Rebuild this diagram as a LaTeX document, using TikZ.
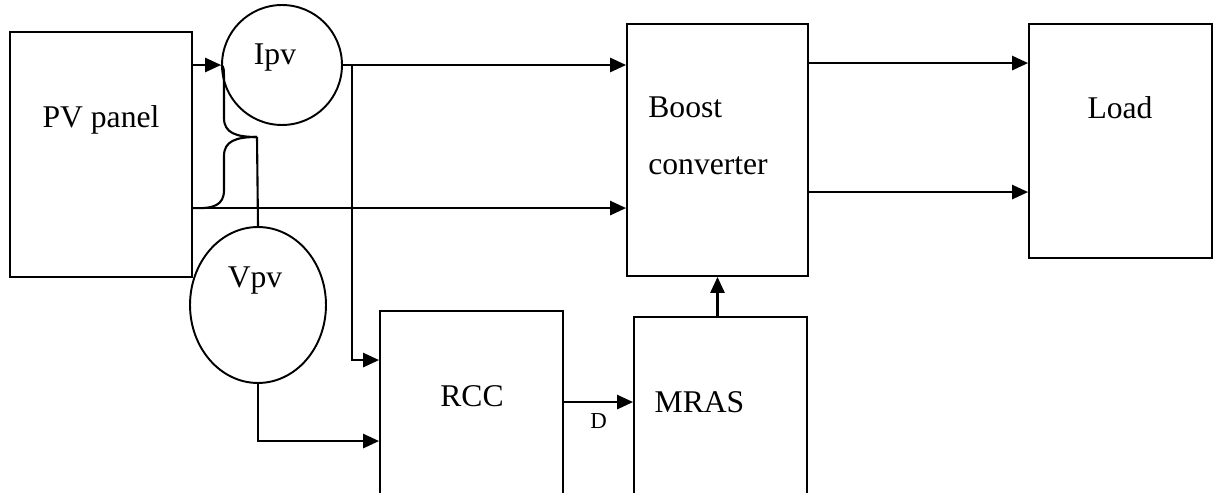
\documentclass[tikz,border=0pt]{standalone}
\usepackage{fontspec}
\setmainfont{Liberation Serif}
\usetikzlibrary{shapes.geometric,arrows.meta,calc}
\begin{document}
\begin{tikzpicture}[x=0.02cm,y=-0.02cm,
 blk/.style={draw,line width=1.1pt,inner sep=0pt},
 meter/.style={draw,ellipse,line width=1.1pt,inner sep=0pt},
 txt/.style={anchor=base,font=\fontsize{18}{22}\selectfont,inner sep=0pt},
 conn/.style={line width=1.2pt},
 arr/.style={conn,-{Triangle[length=9pt,width=8pt]}}]
 \clip (0,0) rectangle (1218,493);
 % blocks
 \node[blk,minimum width=3.64cm,minimum height=4.9cm] (pv) at (101,154.5) {};
 \node[blk,minimum width=3.62cm,minimum height=5.04cm] (boost) at (717.5,150) {};
 \node[blk,minimum width=3.66cm,minimum height=4.68cm] (load) at (1120.5,141) {};
 \node[blk,minimum width=3.66cm,minimum height=4.18cm] (rcc) at (471.5,415.5) {};
 \node[blk,minimum width=3.46cm,minimum height=4.06cm] (mras) at (720.5,418.5) {};
 \node[meter,minimum width=2.4cm,minimum height=2.4cm] (ipv) at (282,65) {};
 \node[meter,minimum width=2.72cm,minimum height=3.12cm] (vpv) at (258,305) {};
 % texts
 \node[txt] (pvtxt) at (101,128) {PV panel};
 \node[txt] (ipvtxt) at (275,65) {Ipv};
 \node[txt] (vpvtxt) at (255,288) {Vpv};
 \node[txt,anchor=base west] (bsttxt) at (648,118) {Boost};
 \node[txt,anchor=base west] (cnvtxt) at (648,175) {converter};
 \node[txt] (loadtxt) at (1120,119) {Load};
 \node[txt] (rcctxt) at (472,407) {RCC};
 \node[txt] (mrastxt) at (699.5,413) {MRAS};
 % taps
 \coordinate (itap) at (352,65);
 \coordinate (brtip) at (257,137);
 \coordinate (pvlo) at ($(pv.north east)+(0,177)$);
 \coordinate (rin1) at ($(rcc.north west)+(0,50)$);
 \coordinate (rin2) at ($(rcc.north west)+(0,131)$);
 \coordinate (rout) at ($(rcc.north east)+(0,92)$);
 \coordinate (bout1) at ($(boost.north east)+(0,40)$);
 \coordinate (bout2) at ($(boost.north east)+(0,169)$);
 % connectors
 \draw[arr] (pv.east |- ipv.west) -- (ipv.west);
 \draw[arr] (ipv.east) -- (ipv.east -| boost.west);
 \draw[arr] (itap) |- (rin1);
 \draw[arr] (pvlo) -- (pvlo -| boost.west);
 \draw[conn] (ipv.west) .. controls (224,67) .. (224,85) -- (224,118)
   .. controls (224,133) and (236,137) .. (brtip);
 \draw[conn] (brtip) .. controls (236,137) and (224,141) .. (224,156) -- (224,190)
   .. controls (224,205) and (214,209) .. (pvlo);
 \draw[conn] (brtip) -- (vpv.north);
 \draw[arr] (vpv.south) |- (rin2);
 \draw[arr] (rout) -- (rout -| mras.west)
   node[pos=0.5,below=6pt,font=\fontsize{13}{15}\selectfont,inner sep=0pt] (dlbl) {D};
 \draw[arr] (boost.south |- mras.north) -- (boost.south);
 \draw[arr] (bout1) -- (bout1 -| load.west);
 \draw[arr] (bout2) -- (bout2 -| load.west);
\end{tikzpicture}
\end{document}
